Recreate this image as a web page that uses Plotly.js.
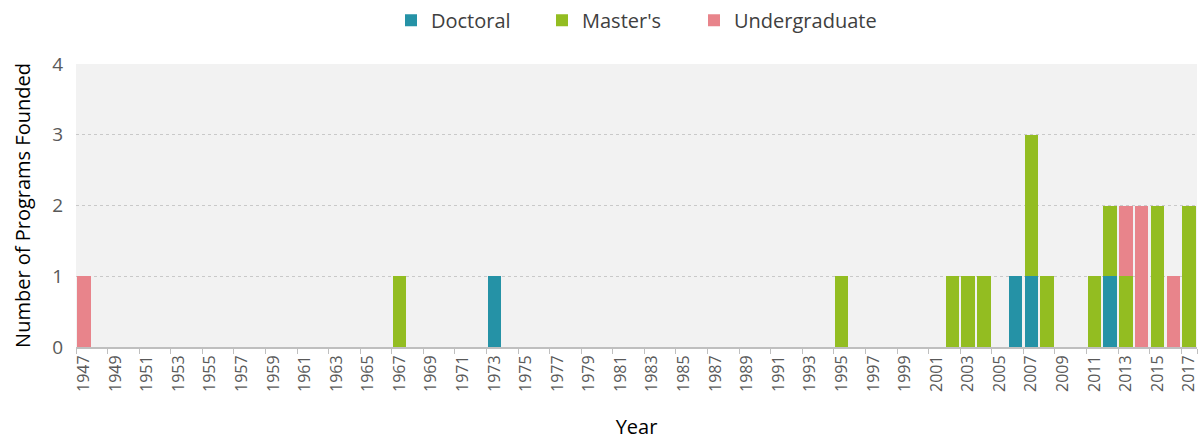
<!DOCTYPE html>
<html>
<head>
<meta charset="utf-8">
<script src="https://cdn.plot.ly/plotly-3.0.1.min.js"></script>
<style>html,body{margin:0;padding:0;background:#fff;}#chart{width:1204px;height:440px;}</style>
</head>
<body>
<div id="chart"></div>
<script>
var years = ['1947','1948','1949','1950','1951','1952','1953','1954','1955','1956',
  '1957','1958','1959','1960','1961','1962','1963','1964','1965','1966',
  '1967','1968','1969','1970','1971','1972','1973','1974','1975','1976',
  '1977','1978','1979','1980','1981','1982','1983','1984','1985','1986',
  '1987','1988','1989','1990','1991','1992','1993','1994','1995','1996',
  '1997','1998','1999','2000','2001','2002','2003','2004','2005','2006',
  '2007','2008','2009','2010','2011','2012','2013','2014','2015','2016','2017'];
var tickYears = ['1947','1949','1951','1953','1955','1957','1959','1961','1963','1965',
  '1967','1969','1971','1973','1975','1977','1979','1981','1983','1985','1987',
  '1989','1991','1993','1995','1997','1999','2001','2003','2005','2007','2009',
  '2011','2013','2015','2017'];

var doctoralYears = ['1973','2006','2007','2012'];
var doctoralValues = [1,1,1,1];
var mastersYears = ['1967','1995','2002','2003','2004','2007','2008','2011','2012','2013','2015','2017'];
var mastersValues = [1,1,1,1,1,2,1,1,1,1,2,2];
var undergradYears = ['1947','2013','2014','2016'];
var undergradValues = [1,1,2,1];

var font = '"Open Sans", "Segoe UI", sans-serif';
var traces = [
  {type:'bar', name:'Doctoral', x:doctoralYears, y:doctoralValues, marker:{color:'#2592a6'}, legend:'legend'},
  {type:'bar', name:"Master's", x:mastersYears, y:mastersValues, marker:{color:'#93bd21'}, legend:'legend2'},
  {type:'bar', name:'Undergraduate', x:undergradYears, y:undergradValues, marker:{color:'#e8848b'}, legend:'legend3'}
];
function leg(x) {
  return {orientation:'h', x:x, xanchor:'left', y:1.155, yanchor:'middle',
    font:{size:20, color:'#404040', family:font}, itemwidth:30, bgcolor:'rgba(0,0,0,0)'};
}
var layout = {
  width:1204, height:440,
  barmode:'stack', bargap:0.15,
  margin:{l:76, r:7, t:64, b:93, autoexpand:false},
  paper_bgcolor:'#ffffff', plot_bgcolor:'#f2f2f2',
  font:{family:font, color:'#595959'},
  showlegend:true,
  legend:leg(0.281), legend2:leg(0.4157), legend3:leg(0.5513),
  xaxis:{type:'category', categoryorder:'array', categoryarray:years,
    tickmode:'array', tickvals:tickYears, ticktext:tickYears, tickangle:-90,
    tickfont:{size:16, color:'#595959'}, ticks:'outside', tickson:'boundaries',
    ticklen:5, tickcolor:'#bfbfbf', showgrid:false, automargin:false,
    showline:true, linecolor:'#bfbfbf', linewidth:2,
    title:{text:'Year', font:{size:20, color:'#000000'}, standoff:30}},
  yaxis:{range:[0,4], dtick:1, tickfont:{size:19, color:'#595959'},
    showgrid:true, gridcolor:'#c9c9c9', griddash:'dot', gridwidth:1,
    zeroline:false, ticks:'', ticklabelstandoff:12, automargin:false,
    title:{text:'Number of Programs Founded', font:{size:20, color:'#000000'}, standoff:16}}
};
Plotly.newPlot('chart', traces, layout, {displayModeBar:false, staticPlot:true});
</script>
</body>
</html>
